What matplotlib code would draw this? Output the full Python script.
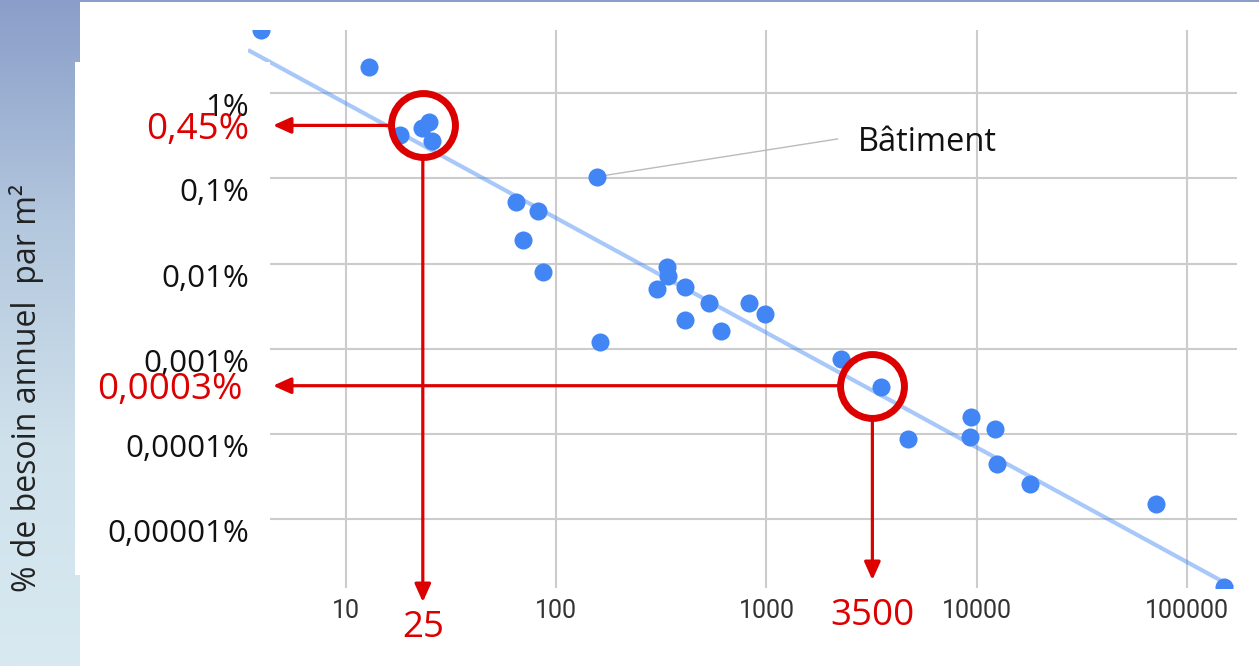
import numpy as np
import matplotlib
matplotlib.use("Agg")
import matplotlib.pyplot as plt
from matplotlib import transforms
from matplotlib.colors import LinearSegmentedColormap
from matplotlib.patches import Rectangle

plt.rcParams['font.family'] = ['Open Sans', 'DejaVu Sans']

# data (x: surface, y: % of annual need per m2)
surface = [3.94, 12.8, 18.1, 23.0, 24.9, 25.6, 156, 64.4, 82.2, 69.2, 86.2,
           335, 342, 302, 412, 535, 412, 824, 982, 611, 162,
           2270, 3490, 4700, 9350, 9250, 12160, 12470, 18000, 71500, 149500]
besoin = [5.5, 2.05, 0.324, 0.388, 0.464, 0.278, 0.105, 0.0534, 0.0416, 0.0190, 0.00806,
          0.00907, 0.00723, 0.00501, 0.00528, 0.00343, 0.00218, 0.00343, 0.00257, 0.00162, 0.00119,
          0.000755, 0.000360, 8.76e-5, 0.000157, 9.17e-5, 0.000115, 4.46e-5, 2.6e-5, 1.51e-5, 1.6e-6]

# trend line end points
trend_x = [3.42, 165600]
trend_y = [3.22, 1.6e-6]

x_ticks = [10, 100, 1000, 10000, 100000]
x_tick_labels = ['10', '100', '1000', '10000', '100000']
y_ticks = [1, 0.1, 0.01, 0.001, 0.0001, 0.00001]
y_tick_labels = ['1%', '0,1%', '0,01%', '0,001%', '0,0001%', '0,00001%']

batiment_x, batiment_y = 156, 0.105
batiment_text = 'Bâtiment'

# red reading annotations
ann_x = [23.2, 3190]
ann_y = [0.42, 0.00037]
ann_x_labels = ['25', '3500']
ann_y_labels = ['0,45%', '0,0003%']

W, H = 1259, 666
red = '#dd0000'
blue = '#4285f4'

fig = plt.figure(figsize=(W / 100, H / 100), dpi=100)

# slide background: blue gradient with white panel
bg = fig.add_axes([0, 0, 1, 1], zorder=-10)
cmap = LinearSegmentedColormap.from_list('bg', ['#8a9ec9', '#b3c7de', '#cfe1eb', '#d8e9f1'])
bg.imshow(np.linspace(0, 1, 256).reshape(-1, 1), aspect='auto', cmap=cmap, extent=[0, 1, 0, 1])
bg.add_patch(Rectangle((80 / W, 0), 1, 1 - 1.5 / H, transform=bg.transAxes,
                       facecolor='white', edgecolor='none'))
bg.axis('off')

ax = fig.add_axes([248 / W, 1 - 587.5 / H, (1237 - 248) / W, (587.5 - 30) / H])
ax.set_xscale('log')
ax.set_yscale('log')
for s in ax.spines.values():
    s.set_visible(False)

ax.plot(trend_x, trend_y, color=blue, alpha=0.45, lw=3, solid_capstyle='butt', zorder=2)
ax.plot(surface, besoin, 'o', ms=13, color=blue, mec='none', zorder=3)

# leader line to label
lab_x, lab_y = 2178, 0.291
ax.plot([batiment_x, lab_x], [batiment_y, lab_y], color='#bbbbbb', lw=1, zorder=2.5)
ax.text(2710, 0.210, batiment_text, fontsize=23.5, color='#111111', va='baseline', ha='left')

ax.set_xticks(x_ticks, x_tick_labels)
ax.set_yticks(y_ticks, [])
ax.minorticks_off()
ax.set_axisbelow(True)
ax.grid(True, which='major', color='#cccccc', lw=1.5)
ax.tick_params(axis='both', which='both', length=0)
ax.tick_params(axis='x', pad=8, labelsize=18, labelcolor='#333333')
for lbl in ax.get_xticklabels():
    lbl.set_fontfamily(['Roboto', 'DejaVu Sans'])

ax.set_xlim(3.42, 173000)
ax.set_ylim(1.585e-6, 5.53)

# white text box of the y labels lies over the plot
ax.add_artist(Rectangle((75 / W, 1 - 575 / H), (270 - 75) / W, (575 - 62) / H,
                        transform=fig.transFigure, facecolor='white', edgecolor='none',
                        zorder=5, clip_on=False))

fig_data = transforms.blended_transform_factory(fig.transFigure, ax.transData)
data_fig = transforms.blended_transform_factory(ax.transData, fig.transFigure)

ytick_tr = transforms.offset_copy(fig_data, fig=fig, y=-23, units='dots')
for v, s in zip(y_ticks, y_tick_labels):
    ax.text(249 / W, v, s, transform=ytick_tr, ha='right', va='baseline',
            fontsize=22.5, color='#111111', zorder=7, clip_on=False)

fig.text(27 / W, 1 - 387.5 / H, '% de besoin annuel  par m²', rotation=90,
         ha='center', va='center', fontsize=23, color='#222222')

# red circles and arrows
ax.plot(ann_x, ann_y, 'o', ms=46, mfc='none', mec=red, mew=5, clip_on=False, zorder=6)
arrow = dict(arrowstyle='-|>,head_length=0.4,head_width=0.18', mutation_scale=27,
             color=red, lw=2.3, shrinkB=0)
tip_y = [602, 580]
ylab_right = [249, 243]
xlab_base = [637, 625]
for i in range(len(ann_x)):
    ax.annotate('', xy=(273 / W, ann_y[i]), xycoords=fig_data,
                xytext=(ann_x[i], ann_y[i]), textcoords='data',
                arrowprops=dict(arrow, shrinkA=24), annotation_clip=False, zorder=6)
    ax.annotate('', xy=(ann_x[i], 1 - tip_y[i] / H), xycoords=data_fig,
                xytext=(ann_x[i], ann_y[i]), textcoords='data',
                arrowprops=dict(arrow, shrinkA=24), annotation_clip=False, zorder=6)
    tr = transforms.offset_copy(fig_data, fig=fig, y=-13.5, units='dots')
    ax.text(ylab_right[i] / W, ann_y[i], ann_y_labels[i], transform=tr, ha='right',
            va='baseline', fontsize=26.5, color=red, zorder=8, clip_on=False)
    ax.text(ann_x[i], 1 - xlab_base[i] / H, ann_x_labels[i], transform=data_fig,
            ha='center', va='baseline', fontsize=26.5, color=red, zorder=8, clip_on=False)

fig.savefig('out.png', dpi=100)
